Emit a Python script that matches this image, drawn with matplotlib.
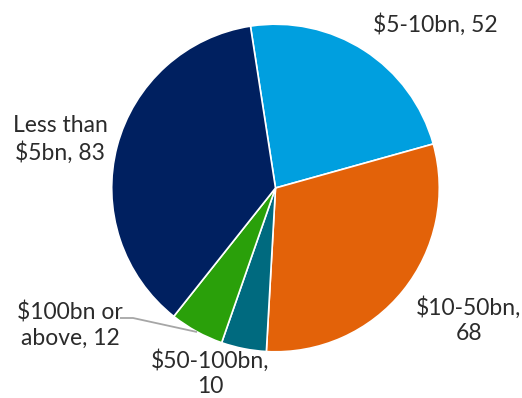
import matplotlib
matplotlib.use("Agg")
import matplotlib.pyplot as plt

# Deal counts by size bucket
categories = ["$5-10bn", "$10-50bn", "$50-100bn", "$100bn or above", "Less than $5bn"]
values = [52, 68, 10, 12, 83]
colors = ["#009FDF", "#E36209", "#006A7F", "#2AA00A", "#002060"]
label_texts = ["$5-10bn, 52", "$10-50bn,\n68", "$50-100bn,\n10", "$100bn or\nabove, 12", "Less than\n$5bn, 83"]

W, H = 522, 398
fig = plt.figure(figsize=(W / 100, H / 100), dpi=100)
ax = fig.add_axes([0, 0, 1, 1])

cx, cy, r = 275.5, H - 188, 163.8
ax.pie(values, colors=colors, startangle=98.8, counterclock=False,
       center=(cx, cy), radius=r, frame=True,
       wedgeprops=dict(edgecolor="white", linewidth=1.2))
ax.set_xlim(0, W)
ax.set_ylim(0, H)
ax.set_aspect("equal")
ax.axis("off")

font = dict(family=["Lato", "DejaVu Sans"], fontsize=16.5, color="#2B2B2B",
            fontweight="normal", linespacing=1.28)
positions = [(435, H - 25), (469, H - 320), (210, H - 373),
             (70, H - 325), (60, H - 139)]
for txt, (x, y) in zip(label_texts, positions):
    ax.text(x, y, txt, ha="center", va="center", **font)

# Leader line for the small green slice
ax.plot([120, 133, 197], [H - 318, H - 318, H - 332], color="#A6A6A6", lw=1.3,
        solid_capstyle="butt")

fig.savefig("out.png", dpi=100)
